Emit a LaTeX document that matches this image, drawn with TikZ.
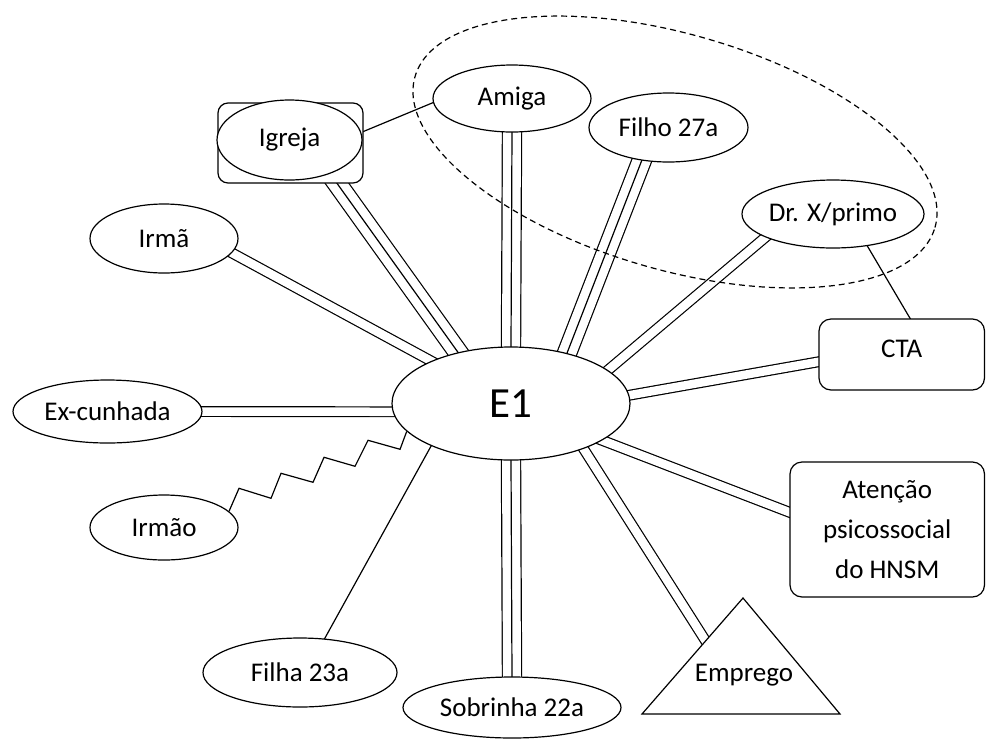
\documentclass[tikz,border=0pt]{standalone}
\usepackage{fontspec}
\setmainfont{Carlito}
\usetikzlibrary{shapes.geometric,calc}
\pgfdeclarelayer{background}
\pgfsetlayers{background,main}
\begin{document}
\begin{tikzpicture}[x=1pt,y=-1pt,
  every node/.style={inner sep=0pt, font=\fontsize{27}{40}\selectfont},
  person/.style={ellipse, draw, fill=white, line width=1.2pt},
  box/.style={rectangle, rounded corners=12pt, draw, fill=white, line width=1.2pt},
  tie/.style={line width=1.2pt, shorten <=-8pt, shorten >=-8pt},
  dbl/.style={tie, double, double distance=8.5pt},
  trpl/.style={tie, double, double distance=18pt},
  conflict/.style={line width=1.2pt, line join=miter},
  group/.style={line width=1.2pt, dash pattern=on 6pt off 4pt}
]
\useasboundingbox (0,0) rectangle (986,740);

% central person
\node[person, minimum width=238pt, minimum height=113pt,
      font=\fontsize{43}{50}\selectfont] (e1) at (511,403.5) {E1};

% network members
\node[person, minimum width=158pt, minimum height=67pt] (amiga) at (512,98.5) {Amiga};
\node[box, rounded corners=10pt, minimum width=145pt, minimum height=80pt] (igrejabox) at (290.5,143) {};
\node[person, minimum width=145pt, minimum height=80pt] (igreja) at (289.5,140) {Igreja};
\node[person, minimum width=159pt, minimum height=69pt] (filho) at (668.5,127.5) {Filho 27a};
\node[person, minimum width=182pt, minimum height=68pt] (drx) at (833,214) {Dr. X/primo};
\node[person, minimum width=148pt, minimum height=69pt] (irma) at (164,238.5) {Irmã};
\node[person, minimum width=189pt, minimum height=63pt] (excun) at (107.5,411.5) {Ex-cunhada};
\node[person, minimum width=148pt, minimum height=65pt] (irmao) at (164,527.5) {Irmão};
\node[person, minimum width=194pt, minimum height=69pt] (filha) at (300,672.5) {Filha 23a};
\node[person, minimum width=218pt, minimum height=61pt] (sobrinha) at (512,707.5) {Sobrinha 22a};

% services
\node[box, minimum width=165.5pt, minimum height=71pt, text depth=12pt] (cta) at (901.75,354.5) {CTA};
\node[box, minimum width=194.5pt, minimum height=135pt, align=center] (atencao) at (887.25,529.5)
  {Atenção\\psicossocial\\do HNSM};

% work
\coordinate (tritop) at (743,598);
\coordinate (trileft) at (642,714);
\coordinate (triright) at (840,714);
\draw[line width=1.2pt, fill=white] (tritop) -- (trileft) -- (triright) -- cycle;
\node (emprego) at (744,675) {Emprego};

\begin{pgfonlayer}{background}
  % strong ties
  \draw[trpl] (amiga.south) -- (e1.north);
  \draw[tie]  (amiga.south) -- (e1.north);
  \draw[trpl] (igrejabox.319) -- (e1.136);
  \draw[tie]  (igrejabox.319) -- (e1.136);
  \draw[trpl] (filho.231) -- (e1.42);
  \draw[tie]  (filho.231) -- (e1.42);
  \draw[trpl] (e1.south) -- (sobrinha.north);
  \draw[tie]  (e1.south) -- (sobrinha.north);
  % medium ties
  \draw[dbl] (irma.348) -- (e1.152);
  \draw[dbl] (excun.east) -- (e1.184);
  \draw[dbl] (drx.199) -- (e1.19);
  \draw[dbl] (e1.4) -- (cta.185);
  \draw[dbl] (e1.338) -- (atencao.170);
  \draw[dbl] (e1.328) -- ($(tritop)!0.37!(trileft)$);
  % weak ties
  \draw[tie] (e1.208) -- (filha.54);
  \draw[tie] (igrejabox.9) -- (amiga.183);
  \draw[tie] (drx.317) -- (cta.77);
  % conflict
  \draw[conflict] (irmao.14) -- ++(10,-23) -- ++(32,10) -- ++(10,-25) -- ++(32,9)
     -- ++(11,-25) -- ++(31,9) -- ++(13,-26) -- ++(32,9) -- (e1.195);
  % group boundary
  \draw[group, rotate around={-16.2:(675,152)}] (675,152) ellipse [x radius=270.7pt, y radius=117.7pt];
\end{pgfonlayer}
\end{tikzpicture}
\end{document}
